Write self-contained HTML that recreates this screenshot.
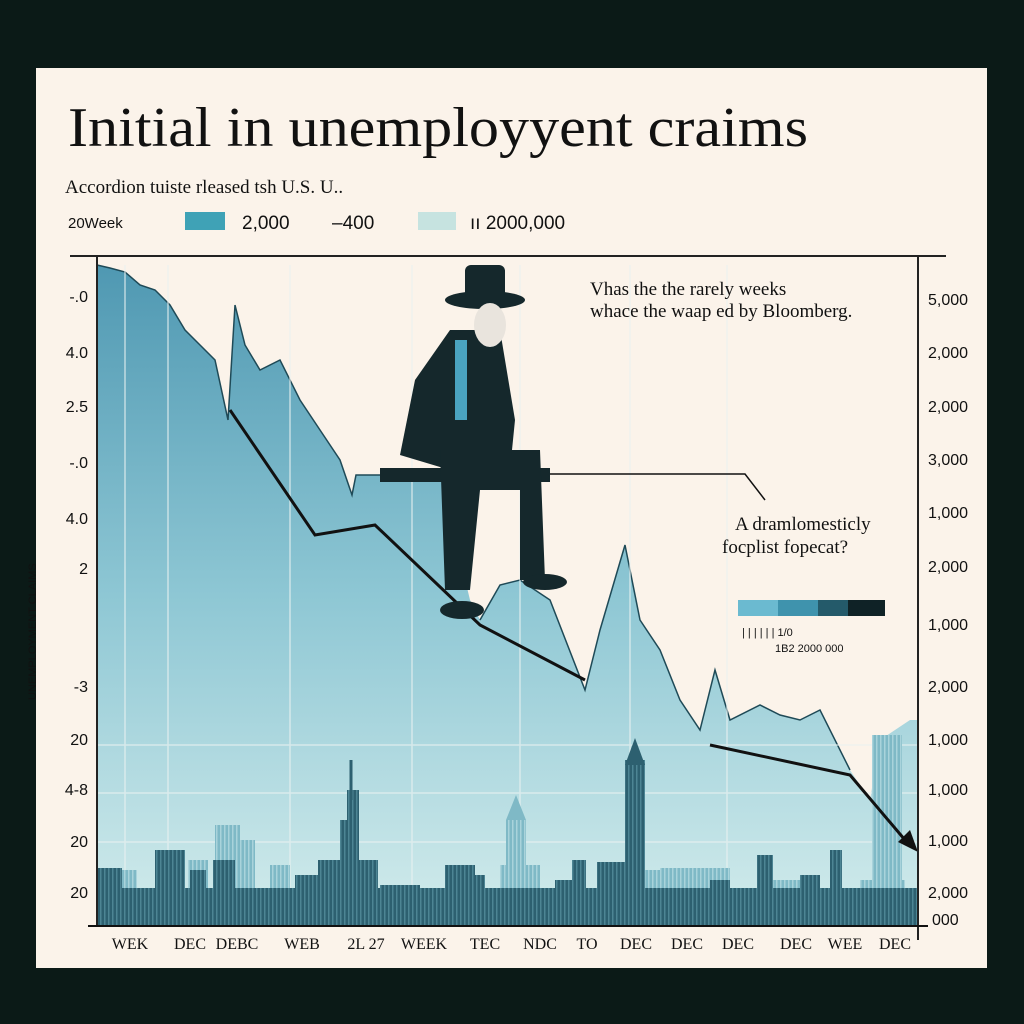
<!DOCTYPE html>
<html><head><meta charset="utf-8"><style>
html,body{margin:0;padding:0;background:#0b1a17;}
svg{display:block}
</style></head><body>
<svg width="1024" height="1024" viewBox="0 0 1024 1024" xmlns="http://www.w3.org/2000/svg">
<defs>
<linearGradient id="g" x1="0" y1="0" x2="0" y2="1">
<stop offset="0" stop-color="#4f98b2"/><stop offset="0.5" stop-color="#8ec7d4"/><stop offset="1" stop-color="#d3ecec"/>
</linearGradient>
<pattern id="vs" width="4" height="10" patternUnits="userSpaceOnUse"><rect width="4" height="10" fill="#2d6070"/><rect width="1.5" height="10" fill="#4d8594"/></pattern>
<pattern id="vl" width="4" height="10" patternUnits="userSpaceOnUse"><rect width="4" height="10" fill="#7fb9c6"/><rect width="1.5" height="10" fill="#a9d3db"/></pattern>
</defs>
<rect width="1024" height="1024" fill="#0b1a17"/>
<rect x="36" y="68" width="951" height="900" fill="#fbf3ea"/>
<text x="68" y="146" font-family="Liberation Serif, serif" font-size="56" fill="#111" textLength="740" lengthAdjust="spacingAndGlyphs">Initial in unemployyent craims</text>
<text x="65" y="193" font-family="Liberation Serif, serif" font-size="19" fill="#111">Accordion tuiste rleased tsh U.S. U..</text>
<text x="68" y="228" font-family="Liberation Sans, sans-serif" font-size="15" fill="#111">20Week</text>
<rect x="185" y="212" width="40" height="18" fill="#3fa2b6"/>
<text x="242" y="229" font-family="Liberation Sans, sans-serif" font-size="19" fill="#111">2,000</text>
<text x="332" y="229" font-family="Liberation Sans, sans-serif" font-size="19" fill="#111">–400</text>
<rect x="418" y="212" width="38" height="18" fill="#c6e3e0"/>
<text x="470" y="229" font-family="Liberation Sans, sans-serif" font-size="19" fill="#111">ıı 2000,000</text>
<line x1="70" y1="256" x2="946" y2="256" stroke="#222" stroke-width="2"/>
<polygon fill="url(#g)" points="97,926 97,265 110,268 125,272 140,285 155,290 170,305 185,330 200,345 215,360 228,420 235,305 245,345 260,370 280,360 300,400 320,430 340,460 352,495 356,475 440,475 470,600 480,620 500,585 520,580 550,600 585,690 600,630 625,545 640,620 660,650 680,700 700,730 715,670 730,720 760,705 780,715 800,720 820,710 850,770 870,800 880,740 910,720 918,720 918,926"/>
<g stroke="#1f4a57" stroke-width="1.5" fill="none">
<polyline points="97,265 110,268 125,272 140,285 155,290 170,305 185,330 200,345 215,360 228,420 235,305 245,345 260,370 280,360 300,400 320,430 340,460 352,495 356,475 440,475"/>
<polyline points="480,620 500,585 520,580 550,600 585,690 600,630 625,545 640,620 660,650 680,700 700,730 715,670 730,720 760,705 780,715 800,720 820,710 850,770"/>
</g>
<g stroke="#e9f2f1" stroke-width="1.5" opacity="0.7">
<line x1="97" y1="745" x2="918" y2="745"/><line x1="97" y1="793" x2="918" y2="793"/><line x1="97" y1="842" x2="918" y2="842"/>
<line x1="125" y1="265" x2="125" y2="926"/><line x1="168" y1="265" x2="168" y2="926"/><line x1="290" y1="265" x2="290" y2="926"/><line x1="412" y1="265" x2="412" y2="926"/><line x1="520" y1="265" x2="520" y2="926"/><line x1="630" y1="265" x2="630" y2="926"/><line x1="727" y1="265" x2="727" y2="926"/>
</g>
<!-- light background buildings -->
<g fill="url(#vl)">
<rect x="122" y="870" width="15" height="56"/><rect x="188" y="860" width="20" height="66"/><rect x="215" y="825" width="25" height="101"/>
<rect x="240" y="840" width="15" height="86"/><rect x="270" y="865" width="20" height="61"/><rect x="506" y="820" width="20" height="106"/>
<rect x="500" y="865" width="40" height="61"/><rect x="640" y="870" width="60" height="56"/><rect x="660" y="868" width="70" height="58"/>
<rect x="760" y="880" width="60" height="46"/><rect x="860" y="880" width="45" height="46"/><rect x="872" y="735" width="30" height="191"/>
</g>
<polygon fill="#7fb9c6" points="506,820 516,795 526,820"/>
<!-- dark skyline -->
<g fill="url(#vs)">
<rect x="97" y="888" width="820" height="38"/>
<rect x="97" y="868" width="25" height="58"/><rect x="155" y="850" width="30" height="76"/>
<rect x="190" y="870" width="16" height="56"/><rect x="213" y="860" width="22" height="66"/>
<rect x="295" y="875" width="40" height="51"/><rect x="318" y="860" width="22" height="66"/><rect x="340" y="820" width="8" height="106"/><rect x="347" y="790" width="12" height="136"/>
<rect x="358" y="860" width="20" height="66"/><rect x="380" y="885" width="40" height="41"/><rect x="445" y="865" width="30" height="61"/>
<rect x="475" y="875" width="10" height="51"/><rect x="555" y="880" width="30" height="46"/>
<rect x="572" y="860" width="14" height="66"/><rect x="597" y="862" width="30" height="64"/><rect x="625" y="760" width="20" height="166"/>
<rect x="710" y="880" width="20" height="46"/><rect x="757" y="855" width="16" height="71"/>
<rect x="800" y="875" width="20" height="51"/><rect x="830" y="850" width="12" height="76"/>
</g>
<polygon fill="#2d6070" points="625,765 635,738 645,765"/>
<line x1="351" y1="760" x2="351" y2="800" stroke="#2d6070" stroke-width="3"/>
<polyline points="230,410 315,535 375,525 480,625 585,680" stroke="#111" stroke-width="3" fill="none"/>
<polyline points="710,745 850,775 905,840" stroke="#111" stroke-width="3" fill="none"/>
<polygon points="918,852 898,842 910,830" fill="#111"/>
<!-- man -->
<g fill="#15282c">
<rect x="380" y="468" width="170" height="14"/>
<ellipse cx="485" cy="300" rx="40" ry="9"/><rect x="465" y="265" width="40" height="35" rx="6"/>
<polygon points="450,330 500,330 515,420 510,470 450,470 400,455 415,380"/>
<polygon points="440,450 540,450 545,580 520,580 520,490 480,490 470,590 445,590"/>
<ellipse cx="545" cy="582" rx="22" ry="8"/><ellipse cx="462" cy="610" rx="22" ry="9"/>
</g>
<rect x="455" y="340" width="12" height="80" fill="#4aa3c0"/>
<ellipse cx="490" cy="325" rx="16" ry="22" fill="#e9e4dd"/>
<text x="590" y="295" font-family="Liberation Serif, serif" font-size="19" fill="#111">Vhas the the rarely weeks</text>
<text x="590" y="317" font-family="Liberation Serif, serif" font-size="19" fill="#111">whace the waap ed by Bloomberg.</text>
<polyline points="550,474 745,474 765,500" stroke="#111" stroke-width="1.5" fill="none"/>
<text x="735" y="530" font-family="Liberation Serif, serif" font-size="19" fill="#111">A dramlomesticly</text>
<text x="722" y="553" font-family="Liberation Serif, serif" font-size="19" fill="#111">focplist fopecat?</text>
<rect x="738" y="600" width="40" height="16" fill="#6bbad0"/><rect x="778" y="600" width="40" height="16" fill="#3f93ad"/><rect x="818" y="600" width="30" height="16" fill="#245a6a"/><rect x="848" y="600" width="37" height="16" fill="#0f2226"/>
<text x="742" y="636" font-family="Liberation Sans, sans-serif" font-size="11" fill="#111">|    |    |    |    |    |   1/0</text>
<text x="775" y="652" font-family="Liberation Sans, sans-serif" font-size="11" fill="#111">1B2  2000 000</text>
<line x1="97" y1="256" x2="97" y2="926" stroke="#222" stroke-width="2"/>
<line x1="918" y1="256" x2="918" y2="940" stroke="#222" stroke-width="2"/>
<line x1="88" y1="926" x2="928" y2="926" stroke="#111" stroke-width="2"/>
<g font-family="Liberation Sans, sans-serif" font-size="16" fill="#111" text-anchor="end">
<text x="88" y="302">-.0</text><text x="88" y="358">4.0</text><text x="88" y="412">2.5</text><text x="88" y="468">-.0</text>
<text x="88" y="524">4.0</text><text x="88" y="574">2</text><text x="88" y="692">-3</text><text x="88" y="745">20</text>
<text x="88" y="795">4-8</text><text x="88" y="847">20</text><text x="88" y="898">20</text>
</g>
<text transform="translate(36,700) rotate(-90)" font-family="Liberation Sans, sans-serif" font-size="11" fill="#111">UNEMPLOYMENT CLAIMS</text>
<g font-family="Liberation Sans, sans-serif" font-size="16" fill="#111">
<text x="928" y="305">5,000</text><text x="928" y="358">2,000</text><text x="928" y="412">2,000</text><text x="928" y="465">3,000</text>
<text x="928" y="518">1,000</text><text x="928" y="572">2,000</text><text x="928" y="630">1,000</text><text x="928" y="692">2,000</text>
<text x="928" y="745">1,000</text><text x="928" y="795">1,000</text><text x="928" y="846">1,000</text><text x="928" y="898">2,000</text><text x="932" y="925">000</text>
</g>
<g font-family="Liberation Serif, serif" font-size="16" fill="#111" text-anchor="middle">
<text x="130" y="949">WEK</text><text x="190" y="949">DEC</text><text x="237" y="949">DEBC</text><text x="302" y="949">WEB</text>
<text x="366" y="949">2L 27</text><text x="424" y="949">WEEK</text><text x="485" y="949">TEC</text><text x="540" y="949">NDC</text>
<text x="587" y="949">TO</text><text x="636" y="949">DEC</text><text x="687" y="949">DEC</text><text x="738" y="949">DEC</text>
<text x="796" y="949">DEC</text><text x="845" y="949">WEE</text><text x="895" y="949">DEC</text>
</g>
</svg>
</body></html>
